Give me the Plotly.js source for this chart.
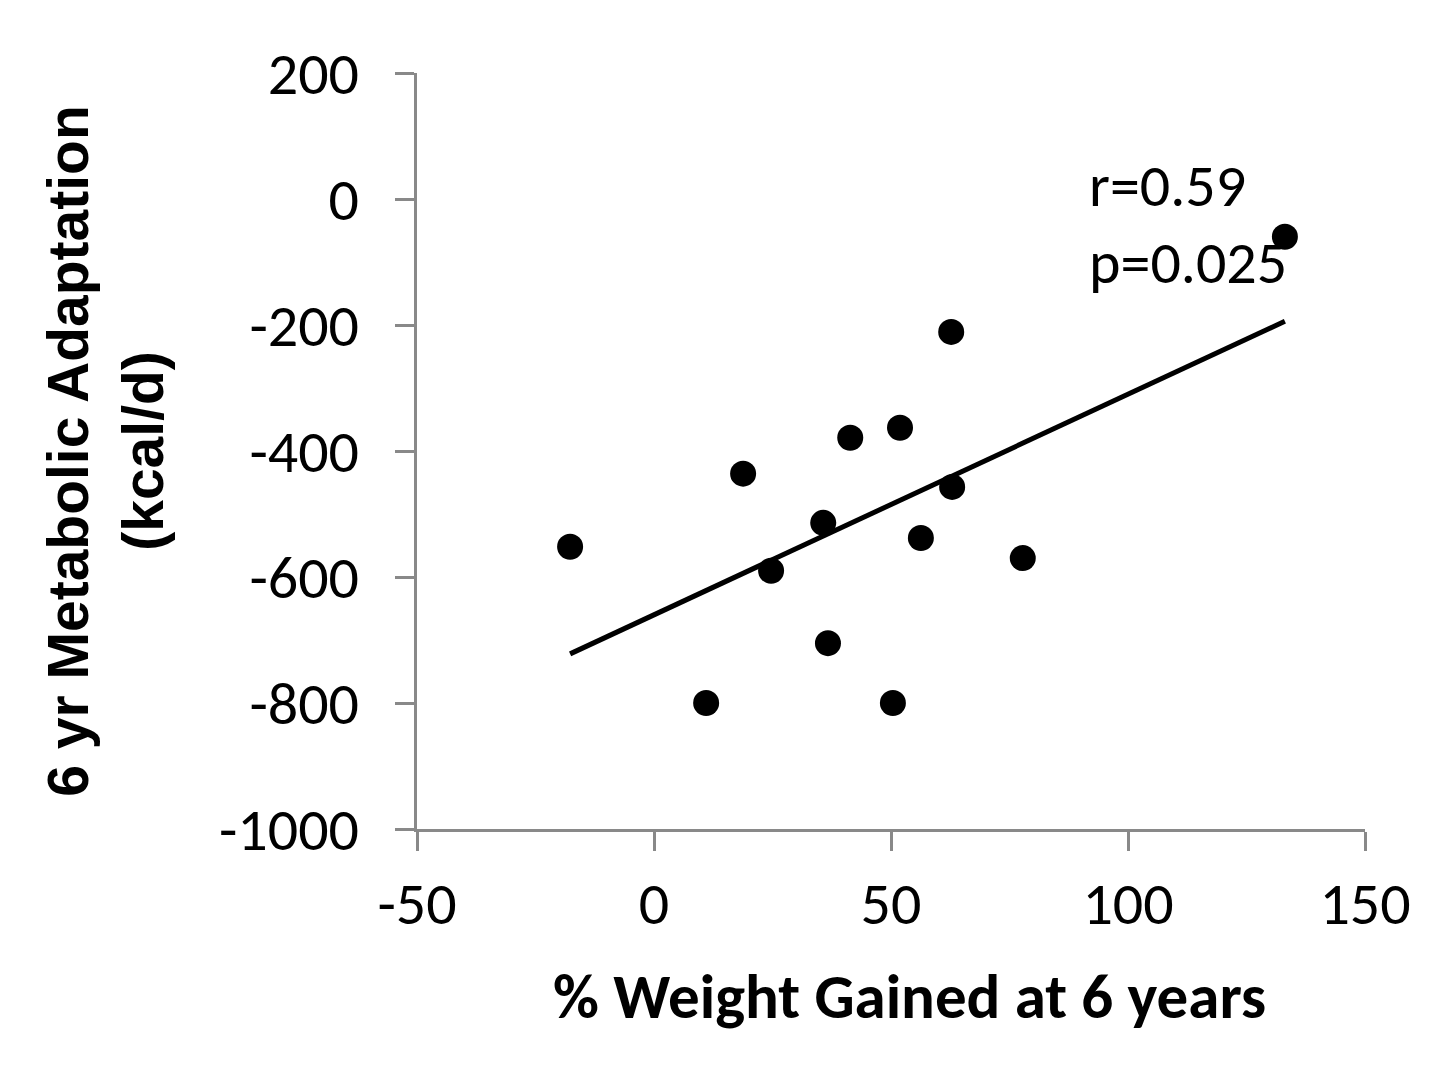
<!DOCTYPE html>
<html>
<head>
<meta charset="utf-8">
<script src="https://cdn.plot.ly/plotly-3.0.1.min.js"></script>
<style>
  body { margin: 0; background: #fff; }
  #chart { width: 1456px; height: 1088px; }
</style>
</head>
<body>
<div id="chart"></div>
<script>
// values
const weightGain = [-17.7, 11.0, 18.8, 24.7, 35.7, 36.7, 41.4, 50.4, 51.9, 56.3, 62.7, 62.9, 77.8, 133.1];
const metabAdapt = [-552, -800, -436, -590, -514, -705, -379, -800, -363, -538, -211, -457, -570, -60];

// fitted line end points, as drawn
const trendX = [-17.7, 133.1];
const trendY = [-722, -194];

const xTicks = [-50, 0, 50, 100, 150];
const xTickText = ['-50', '0', '50', '100', '150'];
const yTicks = [200, 0, -200, -400, -600, -800, -1000];
const yTickText = ['200', '0', '-200', '-400', '-600', '-800', '-1000'];

const bodyFamily = 'Carlito, Calibri, "Open Sans", sans-serif';
const tickFont = {family: bodyFamily, size: 60, color: '#000'};
const axisGray = '#898989';

const traces = [
  {
    x: weightGain, y: metabAdapt,
    type: 'scatter', mode: 'markers',
    marker: {color: '#000', size: 26},
    hoverinfo: 'skip'
  },
  {
    x: trendX, y: trendY,
    type: 'scatter', mode: 'lines',
    line: {color: '#000', width: 5},
    hoverinfo: 'skip'
  }
];

const layout = {
  width: 1456, height: 1088,
  margin: {l: 417, r: 91, t: 73, b: 259},
  paper_bgcolor: '#fff', plot_bgcolor: '#fff',
  showlegend: false,
  xaxis: {
    range: [-50, 150],
    tickvals: xTicks, ticktext: xTickText,
    ticks: 'outside', ticklen: 19, tickwidth: 3, tickcolor: axisGray,
    showline: true, linecolor: axisGray, linewidth: 3,
    showgrid: false, zeroline: false,
    tickfont: tickFont,
    ticklabelstandoff: 1
  },
  yaxis: {
    range: [-1000, 200],
    tickvals: yTicks, ticktext: yTickText,
    ticks: 'outside', ticklen: 19, tickwidth: 3, tickcolor: axisGray,
    showline: true, linecolor: axisGray, linewidth: 3,
    showgrid: false, zeroline: false,
    tickfont: tickFont,
    ticklabelstandoff: 24,
    title: {
      text: '6 yr Metabolic Adaptation<br>(kcal/d)',
      font: {family: 'Arial, Liberation Sans, sans-serif', size: 57, color: '#000', weight: 'bold'},
      standoff: 38
    }
  },
  annotations: [
    {x: 0.519, y: -0.221, xref: 'paper', yref: 'paper', text: '% Weight Gained at 6 years',
     showarrow: false, xanchor: 'center', yanchor: 'middle',
     font: {family: bodyFamily, size: 63, color: '#000', weight: 'bold'}},
    {x: 91.4, y: 22, xref: 'x', yref: 'y', text: 'r=0.59', showarrow: false,
     xanchor: 'left', yanchor: 'middle', font: {family: bodyFamily, size: 60, color: '#000'}},
    {x: 91.4, y: -100, xref: 'x', yref: 'y', text: 'p=0.025', showarrow: false,
     xanchor: 'left', yanchor: 'middle', font: {family: bodyFamily, size: 60, color: '#000'}}
  ]
};

Plotly.newPlot('chart', traces, layout, {staticPlot: true, displayModeBar: false});
</script>
</body>
</html>
